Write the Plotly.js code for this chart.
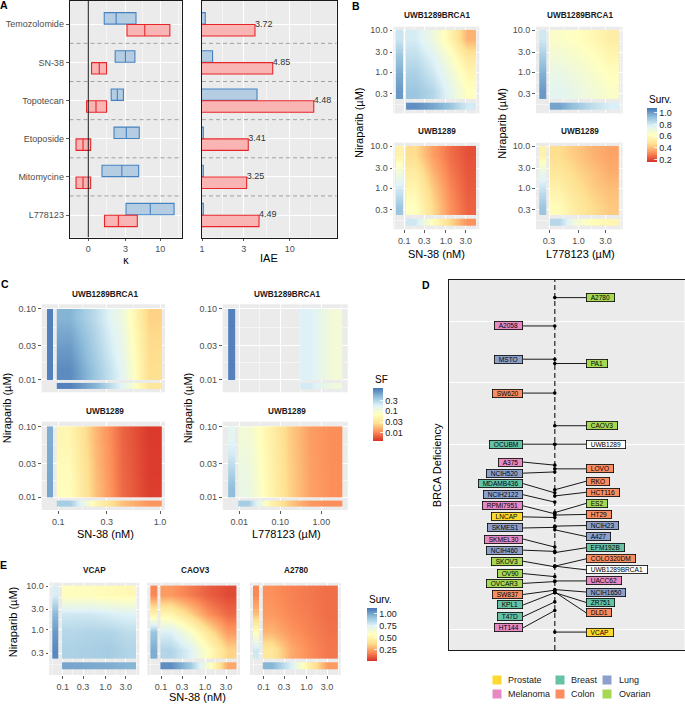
<!DOCTYPE html>
<html>
<head>
<meta charset="utf-8">
<script src="https://cdn.plot.ly/plotly-3.0.1.min.js"></script>
<style>html,body{margin:0;padding:0;background:#fff;}#chart{width:685px;height:704px;}</style>
</head>
<body>
<div id="chart"></div>
<script>
// ================= DATA =================
// ---- Panel A ----
const drugs = ['Temozolomide','SN-38','Topotecan','Etoposide','Mitomycine','L778123'];
const kappaBRCA1Low  = [1.07, 1.95, 1.61, 1.85, 0.91, 3.06];
const kappaBRCA1Mid  = [2.04, 3.00, 2.15, 3.10, 2.60, 7.20];
const kappaBRCA1High = [4.42, 4.25, 2.77, 4.95, 4.85, 15.7];
const kappaUWBLow    = [3.18, 0.21, -0.11, -0.81, -0.81, 1.09];
const kappaUWBMid    = [5.98, 0.72, 0.50, -0.34, -0.34, 2.25];
const kappaUWBHigh   = [13.7, 1.24, 1.24, 0.15, 0.15, 4.63];
const iaeBRCA1 = [1.09, 1.32, 4.24, 1.035, 1.035, 1.035];
const iaeUWB   = [4.02, 6.40, 18.8, 3.37, 3.23, 4.47];
const iaeLabels = ['3.72','4.85','4.48','3.41','3.25','4.49'];

// ---- Panel B (survival) ----
const nirB = [0.36, 0.93, 2.4, 6.3];     // niraparib, µM
const snB  = [0.18, 0.48, 1.25, 3.25];   // SN-38, nM
const lB   = [0.44, 0.89, 1.8, 3.6];     // L778123, µM
const survB_BRCA1_SN = [[0.90,0.85,0.74,0.62],[0.87,0.80,0.70,0.57],[0.83,0.76,0.64,0.50],[0.79,0.70,0.56,0.38]];
const survB_BRCA1_SN_nir  = [1.00,0.96,0.90,0.81];
const survB_BRCA1_SN_drug = [1.02,0.97,0.90,0.79];
const survB_BRCA1_L = [[0.75,0.72,0.68,0.64],[0.72,0.69,0.65,0.61],[0.68,0.65,0.62,0.57],[0.64,0.62,0.58,0.53]];
const survB_BRCA1_L_nir  = [1.00,0.95,0.88,0.80];
const survB_BRCA1_L_drug = [0.98,0.90,0.83,0.78];
const survB_UWB_SN = [[0.62,0.45,0.32,0.24],[0.57,0.42,0.30,0.23],[0.52,0.38,0.28,0.22],[0.46,0.34,0.26,0.21]];
const survB_UWB_SN_nir  = [0.90,0.80,0.68,0.55];
const survB_UWB_SN_drug = [0.80,0.60,0.45,0.32];
const survB_UWB_L = [[0.60,0.52,0.46,0.42],[0.55,0.48,0.43,0.40],[0.50,0.45,0.41,0.37],[0.46,0.42,0.38,0.35]];
const survB_UWB_L_nir  = [0.90,0.82,0.72,0.55];
const survB_UWB_L_drug = [0.85,0.68,0.60,0.57];

// ---- Panel C (surviving fraction) ----
const nirC = [0.0133, 0.0237, 0.0422, 0.075];
const snC  = [0.13, 0.235, 0.425, 0.77];
const lC   = [0.017, 0.054, 0.17, 0.55, 1.77];
const lC_BRCA1 = [0.55, 1.77];
const sfC_BRCA1_SN = [[0.89,0.38,0.16,0.026],[0.76,0.33,0.14,0.025],[0.63,0.30,0.126,0.024],[0.52,0.26,0.112,0.022]];
const sfC_BRCA1_SN_nir  = [1.0,1.0,1.0,1.0];
const sfC_BRCA1_SN_drug = [1.0,0.5,0.16,0.032];
const sfC_BRCA1_L = [[0.18,0.10],[0.18,0.10],[0.18,0.10],[0.18,0.10]];
const sfC_BRCA1_L_nir  = [1.0,1.0,1.0,1.0];
const sfC_BRCA1_L_drug = [0.20,0.11];
const sfC_UWB_SN = [[0.063,0.018,0.0071,0.0044],[0.060,0.0172,0.0069,0.0043],[0.055,0.0166,0.0068,0.0043],[0.050,0.016,0.0066,0.0042]];
const sfC_UWB_SN_nir  = [0.62,0.60,0.58,0.56];
const sfC_UWB_SN_drug = [0.35,0.05,0.018,0.011];
const sfC_UWB_L = [[0.126,0.050,0.0224,0.0126,0.010],[0.118,0.048,0.0219,0.0124,0.010],[0.110,0.046,0.0214,0.0122,0.010],[0.100,0.045,0.0209,0.012,0.010]];
const sfC_UWB_L_nir  = [0.45,0.30,0.20,0.15];
const sfC_UWB_L_drug = [0.35,0.05,0.02,0.0112,0.010];

// ---- Panel D ----
const cellLines = ['A2780','A2058','MSTO','PA1','SW620','CAOV3','OCUBM','UWB1289','A375','LOVO','NCIH520','RKO','MDAMB436','HCT116','NCIH2122','ES2','RPMI7951','HT29','LNCAP','NCIH23','SKMES1','A427','SKMEL30','EFM192B','NCIH460','COLO320DM','SKOV3','UWB1289BRCA1','OV90','UACC62','OVCAR3','NCIH1650','SW837','ZR751','KPL1','DLD1','T47D','HT144','VCAP'];
const cellTissue = ['Ovarian','Melanoma','Lung','Ovarian','Colon','Ovarian','Breast','','Melanoma','Colon','Lung','Colon','Breast','Colon','Lung','Ovarian','Melanoma','Colon','Prostate','Lung','Lung','Lung','Melanoma','Breast','Lung','Colon','Ovarian','','Ovarian','Melanoma','Ovarian','Lung','Colon','Breast','Breast','Colon','Breast','Melanoma','Prostate'];
const brcaScore = [5.38,4.92,4.38,4.31,3.83,3.30,3.00,3.00,2.66,2.60,2.55,2.26,2.21,2.16,2.06,1.89,1.87,1.85,1.81,1.67,1.65,1.61,1.33,1.24,1.26,1.02,1.01,1.02,0.85,0.78,0.77,0.64,0.63,0.59,0.59,0.60,0.44,0.30,-0.05];
const labelSide = [1,-1,-1,1,-1,1,-1,1,-1,1,-1,1,-1,1,-1,1,-1,1,-1,1,-1,1,-1,1,-1,1,-1,1,-1,1,-1,1,-1,1,-1,1,-1,-1,1];
const labelY = [5.38,4.92,4.38,4.31,3.83,3.30,3.00,3.00,2.71,2.60,2.53,2.40,2.36,2.22,2.18,2.04,2.00,1.86,1.82,1.68,1.64,1.50,1.46,1.32,1.28,1.14,1.10,0.96,0.90,0.78,0.74,0.60,0.56,0.43,0.39,0.26,0.20,0.02,-0.05];
const tissues = ['Prostate','Melanoma','Breast','Colon','Lung','Ovarian'];
const tissueColors = ['#FFD92F','#E78AC3','#66C2A5','#FC8D62','#8DA0CB','#A6D854'];

// ---- Panel E (survival) ----
const nirE = [0.36, 0.93, 2.4, 6.3];
const snE  = [0.16, 0.44, 1.18, 3.2];
const survE_VCAP = [[0.86,0.87,0.88,0.85],[0.84,0.85,0.85,0.82],[0.78,0.78,0.76,0.74],[0.55,0.55,0.53,0.52]];
const survE_VCAP_nir  = [1.06,1.02,0.94,0.76];
const survE_VCAP_drug = [0.99,0.98,0.97,0.95];
const survE_CAOV3 = [[0.85,0.75,0.55,0.35],[0.75,0.60,0.40,0.22],[0.50,0.35,0.20,0.12],[0.22,0.16,0.10,0.06]];
const survE_CAOV3_nir  = [0.97,0.90,0.48,0.18];
const survE_CAOV3_drug = [1.05,0.90,0.60,0.25];
const survE_A2780 = [[0.42,0.26,0.19,0.15],[0.28,0.21,0.17,0.14],[0.22,0.18,0.16,0.13],[0.20,0.17,0.15,0.13]];
const survE_A2780_nir  = [0.78,0.55,0.30,0.18];
const survE_A2780_drug = [0.95,0.75,0.45,0.22];

// ================= DRAWING =================
const W = 685, H = 704;
const FONT = '"Liberation Sans", Arial, sans-serif';
const LOG = Math.log10;
const tK = v => Math.asinh(v / 2);   // pseudo-log scale used for kappa
const traces = [];
const layout = {
  width: W, height: H, margin: {l:0, r:0, t:0, b:0},
  paper_bgcolor: '#FFFFFF', plot_bgcolor: '#EBEBEB', showlegend: false,
  barmode: 'overlay', font: {family: FONT, size: 9, color: '#4D4D4D'},
  annotations: []
};
const sfx = n => (n === 1 ? '' : String(n));
function setAxes(n, xpx, ypx, xo, yo) {
  const base = {showgrid:true, gridcolor:'#FFFFFF', gridwidth:1, zeroline:false, ticks:'outside', ticklen:2.8,
    tickwidth:0.8, tickcolor:'#333333', tickfont:{family:FONT, size:9, color:'#4D4D4D'}, fixedrange:true,
    showline:false, autorange:false};
  layout['xaxis' + sfx(n)] = Object.assign({}, base, {domain:[xpx[0]/W, xpx[1]/W], anchor:'y' + sfx(n)}, xo);
  layout['yaxis' + sfx(n)] = Object.assign({}, base, {domain:[1 - ypx[1]/H, 1 - ypx[0]/H], anchor:'x' + sfx(n)}, yo);
}
const minorOpt = vals => ({tickmode:'array', tickvals:vals, showgrid:true, gridcolor:'#FFFFFF', gridwidth:0.5, ticks:''});
const frame = {showline:true, mirror:true, linecolor:'#1A1A1A', linewidth:1};
function ann(text, px, py, opt) {
  layout.annotations.push(Object.assign({text:text, x:px/W, y:1 - py/H, xref:'paper', yref:'paper', showarrow:false,
    xanchor:'center', yanchor:'middle', font:{family:FONT, size:11, color:'#000000'}}, opt || {}));
}

// ---- Panel A ----
const catIdx = drugs.map((d, i) => i);
const OFF = 0.155, BW = 0.30;
const BLUE_F = '#B5CDE3', BLUE_E = '#4682C0', RED_F = '#F9B4B4', RED_E = '#E8262A';
const yRangeA = [5.59, -0.611], xRangeA1 = [-0.605, 2.997], xRangeA2 = [0, 1.536];
// separators between drugs (dashed) and reference line at kappa = 0
const sepX1 = [], sepY = [], sepX2 = [];
for (let k = 0; k < drugs.length - 1; k++) {
  sepX1.push(xRangeA1[0], xRangeA1[1], null); sepX2.push(Math.pow(10, xRangeA2[0]), Math.pow(10, xRangeA2[1]), null);
  sepY.push(k + 0.5, k + 0.5, null);
}
traces.push({type:'scatter', mode:'lines', xaxis:'x', yaxis:'y', x:sepX1, y:sepY, line:{color:'#9A9A9A', width:0.9, dash:'4px,3px'}, hoverinfo:'skip'});
traces.push({type:'scatter', mode:'lines', xaxis:'x2', yaxis:'y2', x:sepX2, y:sepY, line:{color:'#9A9A9A', width:0.9, dash:'4px,3px'}, hoverinfo:'skip'});
traces.push({type:'scatter', mode:'lines', xaxis:'x', yaxis:'y', x:[0, 0], y:yRangeA, line:{color:'#1A1A1A', width:1}, hoverinfo:'skip'});
function crossbar(lo, mid, hi, off, fill, edge) {
  traces.push({type:'bar', orientation:'h', xaxis:'x', yaxis:'y', y:catIdx.map(i => i + off),
    base:lo.map(tK), x:hi.map((h, i) => tK(h) - tK(lo[i])), width:BW,
    marker:{color:fill, line:{color:edge, width:1.1}}, hoverinfo:'skip'});
  const mx = [], my = [];
  mid.forEach((m, i) => { mx.push(tK(m), tK(m), null); my.push(i + off - BW/2, i + off + BW/2, null); });
  traces.push({type:'scatter', mode:'lines', xaxis:'x', yaxis:'y', x:mx, y:my, line:{color:edge, width:1.1}, hoverinfo:'skip'});
}
crossbar(kappaBRCA1Low, kappaBRCA1Mid, kappaBRCA1High, -OFF, BLUE_F, BLUE_E);
crossbar(kappaUWBLow, kappaUWBMid, kappaUWBHigh, OFF, RED_F, RED_E);
traces.push({type:'bar', orientation:'h', xaxis:'x2', yaxis:'y2', y:catIdx.map(i => i - OFF), x:iaeBRCA1, width:BW,
  marker:{color:BLUE_F, line:{color:BLUE_E, width:1.1}}, hoverinfo:'skip'});
traces.push({type:'bar', orientation:'h', xaxis:'x2', yaxis:'y2', y:catIdx.map(i => i + OFF), x:iaeUWB, width:BW,
  marker:{color:RED_F, line:{color:RED_E, width:1.1}}, hoverinfo:'skip'});
traces.push({type:'scatter', mode:'text', xaxis:'x2', yaxis:'y2', x:iaeUWB, y:catIdx, text:iaeLabels,
  textposition:'middle right', textfont:{family:FONT, size:9, color:'#333333'}, hoverinfo:'skip', cliponaxis:false});

const yA = {range:yRangeA, tickmode:'array', tickvals:catIdx};
setAxes(1, [69.5, 181.5], [1, 237.5],
  Object.assign({range:xRangeA1, tickmode:'array', tickvals:[0,3,10].map(tK), ticktext:['0','3','10'],
    minor:minorOpt([-0.597, 0.597, 1.754, 2.91])}, frame),
  Object.assign({}, yA, {ticktext:drugs}, frame));
setAxes(2, [202, 336.7], [1, 237.5],
  Object.assign({type:'log', range:xRangeA2, tickmode:'array', tickvals:[1,3,10], ticktext:['1','3','10'],
    minor:minorOpt([1.732, 5.477, 17.32])}, frame),
  Object.assign({}, yA, {showticklabels:false, ticks:''}, frame));

// ---- Heatmap panels (B, C, E) ----
const RdYlBu = [[0,'#D73027'],[1/6,'#FC8D59'],[2/6,'#FEE090'],[3/6,'#FFFFBF'],[4/6,'#E0F3F8'],[5/6,'#91BFDB'],[1,'#4575B4']];
function heatPanel(n, d, ca, f) {
  const xs = d.x.map(LOG), ys = d.y.map(LOG);
  const xa = 'x' + sfx(n), ya = 'y' + sfx(n);
  const common = {type:'heatmap', zsmooth:'best', coloraxis:ca, xaxis:xa, yaxis:ya, hoverinfo:'skip'};
  traces.push(Object.assign({x:xs, y:ys, z:d.z.map(r => r.map(f))}, common));
  const L = d.left, B = d.bottom;
  traces.push(Object.assign({x:[L[0], (L[0] + L[1]) / 2, L[1]], y:ys, z:d.nir.map(v => [f(v), f(v)])}, common));
  traces.push(Object.assign({x:xs, y:[B[0], (B[0] + B[1]) / 2, B[1]], z:[d.drug.map(f), d.drug.map(f)]}, common));
}
function heatAxes(n, xpx, ypx, xr, yr, xt, yt, showX, showY) {
  setAxes(n, xpx, ypx,
    {range:xr, tickmode:'array', tickvals:xt.v.map(LOG), ticktext:xt.t, showticklabels:showX, ticks:showX ? 'outside' : '', minor:minorOpt(xt.m)},
    {range:yr, tickmode:'array', tickvals:yt.v.map(LOG), ticktext:yt.t, showticklabels:showY, ticks:showY ? 'outside' : '', minor:minorOpt(yt.m)});
}
const id = v => v;
const tkNirB = {v:[0.3,1,3,10], t:['0.3','1.0','3.0','10.0'], m:[-0.784,-0.261,0.239,0.739]};
const tkSNB  = {v:[0.1,0.3,1,3], t:['0.1','0.3','1.0','3.0'], m:[-1.239,-0.761,-0.261,0.239,0.739]};
const tkLB   = {v:[0.3,1,3], t:['0.3','1.0','3.0'], m:[-0.261,0.239,0.739]};
const tkNirC = {v:[0.01,0.03,0.1], t:['0.01','0.03','0.10'], m:[-1.761,-1.261]};
const tkSNC  = {v:[0.1,0.3,1], t:['0.1','0.3','1.0'], m:[-0.761,-0.261]};
const tkLC   = {v:[0.01,0.1,1], t:['0.01','0.10','1.00'], m:[-1.5,-0.5,0.5]};

// B
const bRowY = [[26.7,113.3],[142.7,229.3]], bColX = [[393.3,479.3],[536,622.7]];
const bXR = [[-1.264,0.80],[-0.754,0.784]], bYR = [-0.990, 1.087];
const bLeft = [[-1.2,-1.025],[-0.696,-0.577]], bBottom = [-0.894,-0.736];
heatAxes(3, bColX[0], bRowY[0], bXR[0], bYR, tkSNB, tkNirB, false, true);
heatAxes(4, bColX[1], bRowY[0], bXR[1], bYR, tkLB, tkNirB, false, true);
heatAxes(5, bColX[0], bRowY[1], bXR[0], bYR, tkSNB, tkNirB, true, true);
heatAxes(6, bColX[1], bRowY[1], bXR[1], bYR, tkLB, tkNirB, true, true);
heatPanel(3, {x:snB, y:nirB, z:survB_BRCA1_SN, nir:survB_BRCA1_SN_nir, drug:survB_BRCA1_SN_drug, left:bLeft[0], bottom:bBottom}, 'coloraxis', id);
heatPanel(4, {x:lB, y:nirB, z:survB_BRCA1_L, nir:survB_BRCA1_L_nir, drug:survB_BRCA1_L_drug, left:bLeft[1], bottom:bBottom}, 'coloraxis', id);
heatPanel(5, {x:snB, y:nirB, z:survB_UWB_SN, nir:survB_UWB_SN_nir, drug:survB_UWB_SN_drug, left:bLeft[0], bottom:bBottom}, 'coloraxis', id);
heatPanel(6, {x:lB, y:nirB, z:survB_UWB_L, nir:survB_UWB_L_nir, drug:survB_UWB_L_drug, left:bLeft[1], bottom:bBottom}, 'coloraxis', id);

// C
const cRowY = [[304.3,392.3],[421.7,510]], cColX = [[41.7,165],[222.7,347.7]];
const cXR = [[-1.163,0.049],[-2.40,0.64]], cYR = [-2.18, -0.934];
const cLeft = [[-1.111,-1.056],[-2.267,-2.104]], cBottom = [-2.13,-2.047];
heatAxes(7, cColX[0], cRowY[0], cXR[0], cYR, tkSNC, tkNirC, false, true);
heatAxes(8, cColX[1], cRowY[0], cXR[1], cYR, tkLC, tkNirC, false, true);
heatAxes(9, cColX[0], cRowY[1], cXR[0], cYR, tkSNC, tkNirC, true, true);
heatAxes(10, cColX[1], cRowY[1], cXR[1], cYR, tkLC, tkNirC, true, true);
heatPanel(7, {x:snC, y:nirC, z:sfC_BRCA1_SN, nir:sfC_BRCA1_SN_nir, drug:sfC_BRCA1_SN_drug, left:cLeft[0], bottom:cBottom}, 'coloraxis2', LOG);
heatPanel(8, {x:lC_BRCA1, y:nirC, z:sfC_BRCA1_L, nir:sfC_BRCA1_L_nir, drug:sfC_BRCA1_L_drug, left:cLeft[1], bottom:cBottom}, 'coloraxis2', LOG);
heatPanel(9, {x:snC, y:nirC, z:sfC_UWB_SN, nir:sfC_UWB_SN_nir, drug:sfC_UWB_SN_drug, left:cLeft[0], bottom:cBottom}, 'coloraxis2', LOG);
heatPanel(10, {x:lC, y:nirC, z:sfC_UWB_L, nir:sfC_UWB_L_nir, drug:sfC_UWB_L_drug, left:cLeft[1], bottom:cBottom}, 'coloraxis2', LOG);

// E
const eY = [582.7, 675], eCols = [[49.3,139.3],[147.3,240],[250,340.7]];
const eXR = [-1.314, 0.794], eYR = [-1.023, 1.075], eLeft = [-1.244,-1.094], eBottom = [-0.893,-0.734];
[[survE_VCAP, survE_VCAP_nir, survE_VCAP_drug],[survE_CAOV3, survE_CAOV3_nir, survE_CAOV3_drug],[survE_A2780, survE_A2780_nir, survE_A2780_drug]].forEach((s, i) => {
  heatAxes(12 + i, eCols[i], eY, eXR, eYR, tkSNB, tkNirB, true, i === 0);
  heatPanel(12 + i, {x:snE, y:nirE, z:s[0], nir:s[1], drug:s[2], left:eLeft, bottom:eBottom}, 'coloraxis3', id);
});

function cbar(xpx, ytop, len, vals, txt) {
  return {x:xpx/W, xanchor:'left', y:1 - ytop/H, yanchor:'top', len:len, lenmode:'pixels', thickness:10.4,
    thicknessmode:'pixels', xpad:0, ypad:0, outlinewidth:0, ticks:'inside', ticklen:2.5, tickcolor:'#FFFFFF',
    tickwidth:0.8, tickmode:'array', tickvals:vals, ticktext:txt, tickfont:{family:FONT, size:9, color:'#1A1A1A'}};
}
layout.coloraxis  = {colorscale:RdYlBu, cmin:0.156, cmax:1.075, colorbar:cbar(647.3, 108.3, 54, [0.2,0.4,0.6,0.8,1.0], ['0.2','0.4','0.6','0.8','1.0'])};
layout.coloraxis2 = {colorscale:RdYlBu, cmin:-2.42, cmax:0.07, colorbar:cbar(372.7, 388.3, 53.4, [0.3,0.1,0.03,0.01].map(LOG), ['0.3','0.1','0.03','0.01'])};
layout.coloraxis3 = {colorscale:RdYlBu, cmin:0.008, cmax:1.11, colorbar:cbar(366.7, 608.3, 53.4, [0.25,0.5,0.75,1.0], ['0.25','0.50','0.75','1.00'])};

// ---- Panel D ----
const yRangeD = [-0.341, 5.666];
setAxes(11, [449.3, 684.5], [280, 650],
  Object.assign({range:[-105.7, 130], showgrid:false, showticklabels:false, ticks:''}, frame),
  Object.assign({range:yRangeD, tickmode:'array', tickvals:[0,1,2,3,4,5], showticklabels:false, ticks:''}, frame));
traces.push({type:'scatter', mode:'lines', xaxis:'x11', yaxis:'y11', x:[0, 0], y:yRangeD,
  line:{color:'#333333', width:1.3, dash:'5px,3px'}, hoverinfo:'skip'});
const LBL_X = 31.7;
const segX = [], segY = [];
cellLines.forEach((c, i) => { segX.push(0, labelSide[i] * LBL_X, null); segY.push(brcaScore[i], labelY[i], null); });
traces.push({type:'scatter', mode:'lines', xaxis:'x11', yaxis:'y11', x:segX, y:segY, line:{color:'#000000', width:0.9}, hoverinfo:'skip'});
traces.push({type:'scatter', mode:'markers', xaxis:'x11', yaxis:'y11', x:cellLines.map(() => 0), y:brcaScore,
  marker:{color:'#000000', size:3.6}, hoverinfo:'skip'});
const mctx = document.createElement('canvas').getContext('2d');
mctx.font = '6.6px "Liberation Sans"';
cellLines.forEach((c, i) => {
  const ti = tissues.indexOf(cellTissue[i]);
  layout.annotations.push({text:c, x:labelSide[i] * LBL_X, y:labelY[i], xref:'x11', yref:'y11', showarrow:false,
    xanchor:labelSide[i] > 0 ? 'left' : 'right', yanchor:'middle', bgcolor:ti >= 0 ? tissueColors[ti] : '#FFFFFF',
    bordercolor:'#000000', borderwidth:0.8, borderpad:0, width:mctx.measureText(c).width + 8, height:7.4,
    font:{family:FONT, size:6.6, color:'#000000'}});
});
// legend for D
const legCol = [491.7, 555, 602.3], legRow = [680, 694];
tissues.forEach((t, i) => {
  const cx = legCol[Math.floor(i / 2)], cy = legRow[i % 2];
  ann(' ', cx, cy, {xanchor:'left', width:8.3, height:8.3, bgcolor:tissueColors[i], borderpad:0, font:{family:FONT, size:6, color:tissueColors[i]}});
  ann(t, cx + 14.3, cy, {xanchor:'left', font:{family:FONT, size:9, color:'#1A1A1A'}});
});

// ---- Text: letters, strips, titles ----
[['A',4,5],['B',356,6],['C',5,284],['D',426,285],['E',4,565]].forEach(a => ann(a[0], a[1], a[2], {font:{family:FONT, size:10.5, color:'#000', weight:'bold'}}));
const stripFont = {family:FONT, size:8.2, color:'#1A1A1A', weight:'bold'};
[['UWB1289BRCA1',436.7,15.7],['UWB1289BRCA1',580,15.7],['UWB1289',436.7,131.7],['UWB1289',580,131.7],
 ['UWB1289BRCA1',105,294.3],['UWB1289BRCA1',286.7,294.3],['UWB1289',105,411.7],['UWB1289',286.7,411.7],
 ['VCAP',94.3,570],['CAOV3',195,570],['A2780',296,570]].forEach(s => ann(s[0], s[1], s[2], {font:stripFont}));
ann('κ', 125.5, 260.7, {font:{family:'"DejaVu Sans", sans-serif', size:10, color:'#000000'}});
ann('IAE', 269.3, 258.3);
ann('SN-38 (nM)', 436.7, 254.3); ann('L778123 (µM)', 580, 254.3);
ann('SN-38 (nM)', 105, 534.3); ann('L778123 (µM)', 286.7, 534.3);
ann('SN-38 (nM)', 197, 697.3);
[[359,123],[501.7,123],[7.3,408],[188.3,408],[13.3,622]].forEach(p => ann('Niraparib (µM)', p[0], p[1], {textangle:-90}));
ann('BRCA Deficiency', 437.3, 465, {textangle:-90});
ann('Surv.', 647.3, 99.5, {xanchor:'left', font:{family:FONT, size:10, color:'#000'}});
ann('SF', 372.7, 379.5, {xanchor:'left', font:{family:FONT, size:10, color:'#000'}});
ann('Surv.', 366.7, 599.5, {xanchor:'left', font:{family:FONT, size:10, color:'#000'}});

Plotly.newPlot('chart', traces, layout, {staticPlot:true, displayModeBar:false});
</script>
</body>
</html>
